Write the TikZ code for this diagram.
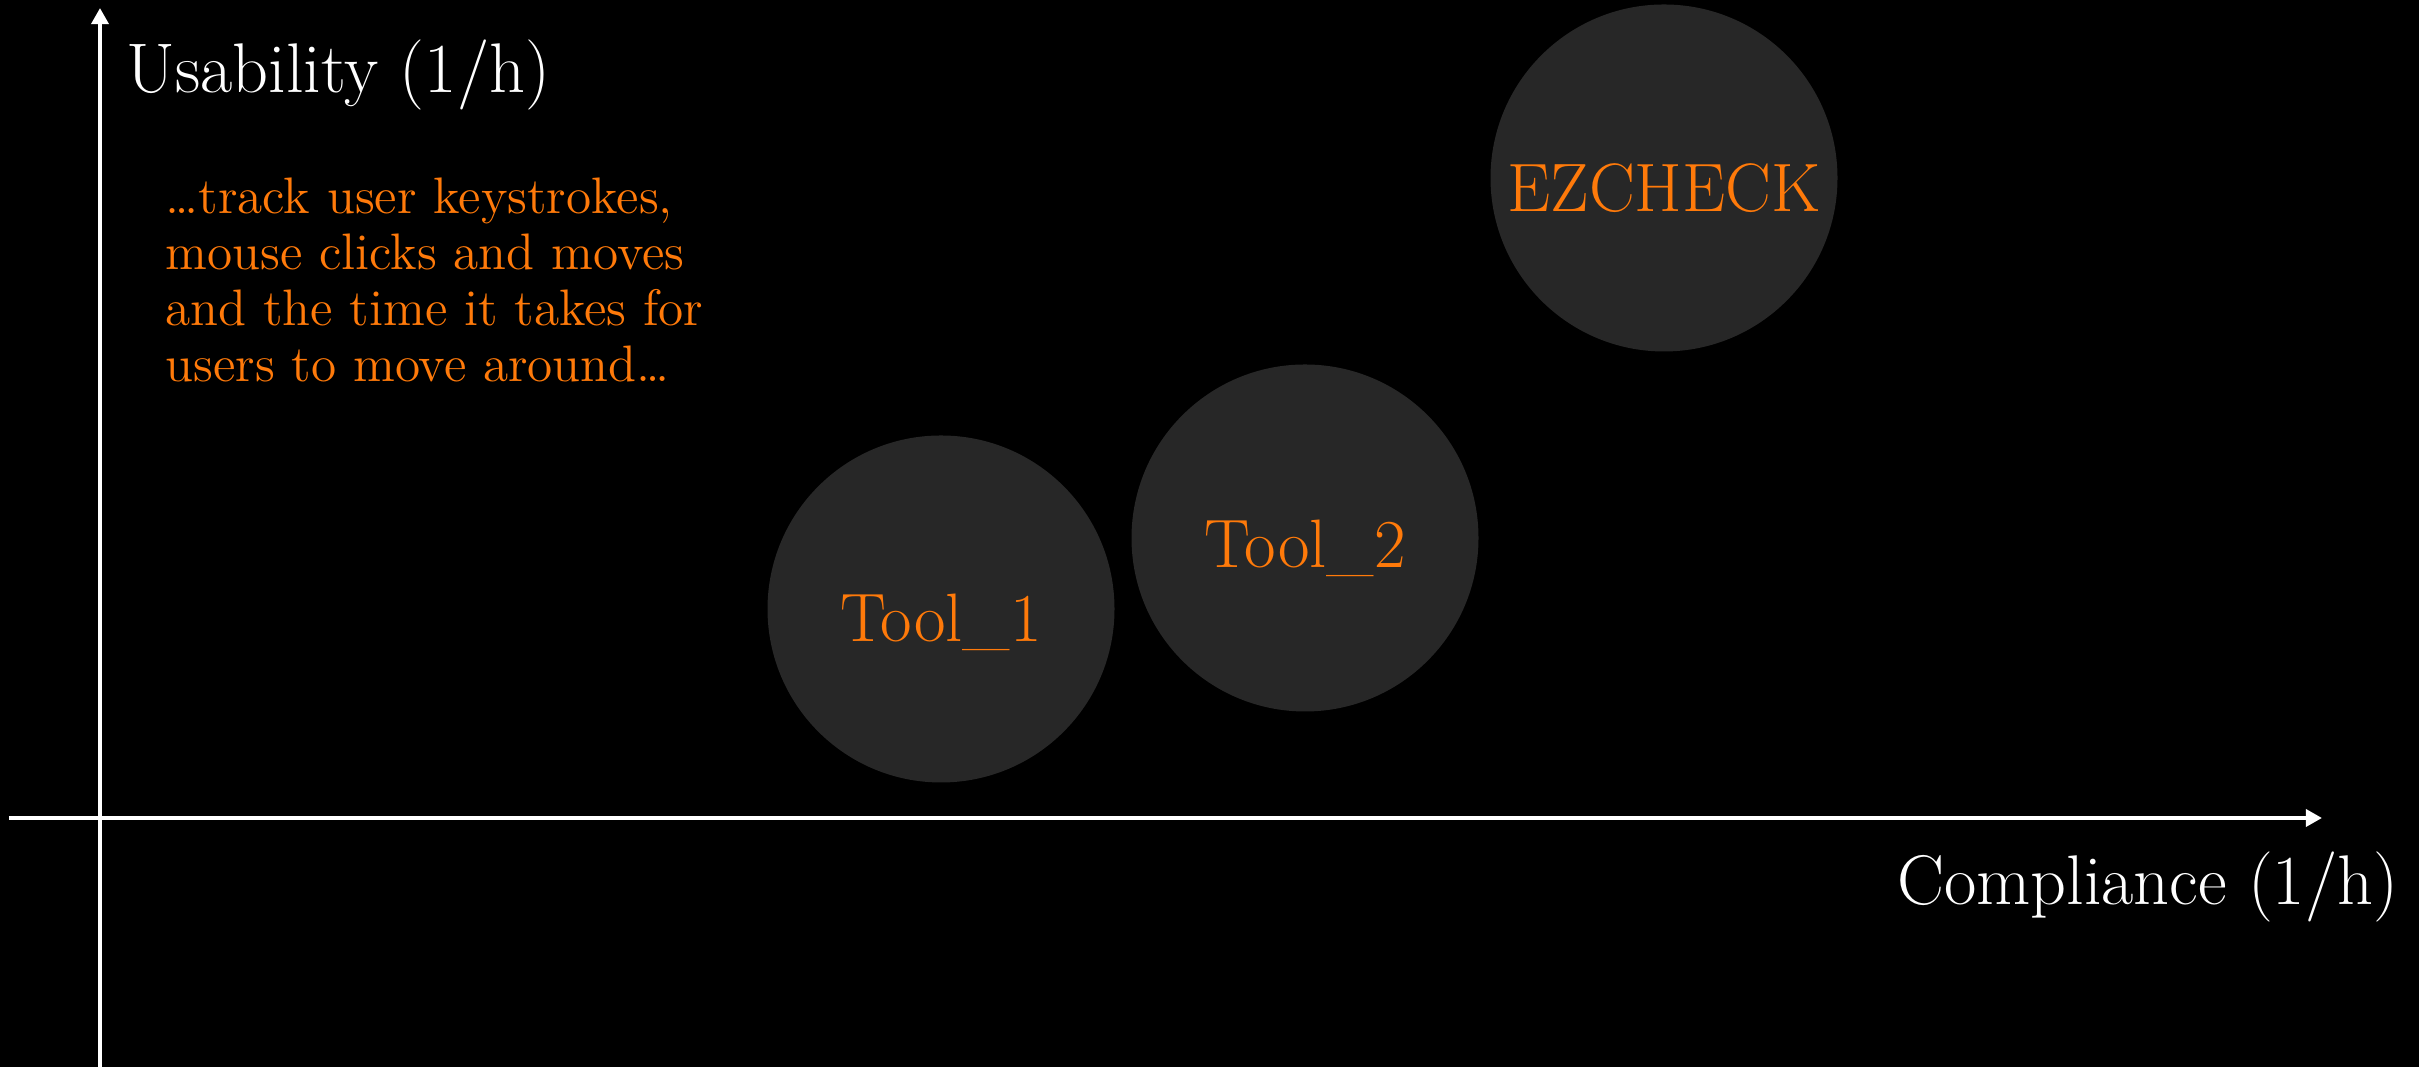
\documentclass[tikz,border=0pt]{standalone}
\usepackage{tkz-euclide}
\usetikzlibrary{arrows.meta}

\definecolor{tiporange}{RGB}{255,122,10}
\definecolor{bubblegray}{RGB}{39,39,39}
\tikzset{
    axis/.style={white, line width=1.4pt, -{Triangle[length=4.6pt,width=4.8pt]}},
    bubble/.style={circle, fill=bubblegray, minimum size=3.47cm, inner sep=0pt},
    bubblelabel/.style={anchor=base, inner sep=0pt, text=tiporange, font=\fontsize{19.5}{23}\selectfont},
    axislabel/.style={inner sep=0pt, text=white, font=\fontsize{20}{24}\selectfont},
    note/.style={anchor=north west, inner sep=0pt, align=left, text=tiporange, font=\fontsize{14.6}{16}\selectfont}
}

\begin{document}
\begin{tikzpicture}
    \fill[black] (0,0) rectangle (24.19,10.67);
    \tkzDefPoints{1/0/O, 1/10.59/Y, 0.09/2.49/P, 23.22/2.49/X, 9.41/4.58/A, 13.05/5.29/B, 16.64/8.89/C}
    \draw[axis] (O) -- (Y);
    \draw[axis] (P) -- (X);
    \node[bubble] (tool1) at (A) {};
    \node[bubble] (tool2) at (B) {};
    \node[bubble] (ezcheck) at (C) {};
    \node[bubblelabel] (lab1) at ([yshift=-0.33cm]tool1.center) {Tool\_1};
    \node[bubblelabel] (lab2) at ([yshift=-0.30cm]tool2.center) {Tool\_2};
    \node[bubblelabel] (lab3) at ([yshift=-0.34cm]ezcheck.center) {EZCHECK};
    \node[axislabel, anchor=base west] (ylab) at (1.26,9.74) {Usability (1/h)};
    \node[axislabel, anchor=base east] (xlab) at (23.99,1.62) {Compliance (1/h)};
    \node[note] (track) at (1.65,8.90) {\dots track user keystrokes,\\mouse clicks and moves\\and the time it takes for\\users to move around\dots};
\end{tikzpicture}
\end{document}
